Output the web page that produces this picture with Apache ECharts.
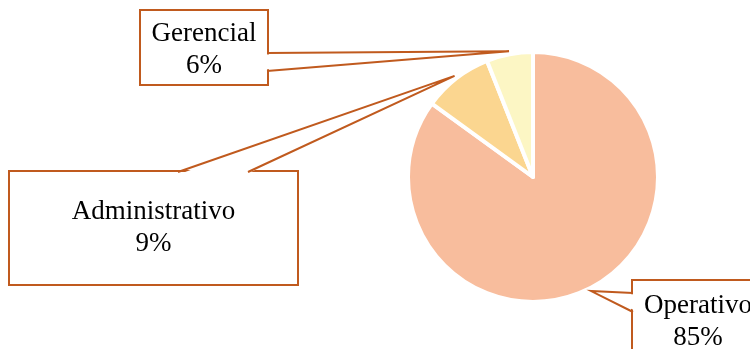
<!DOCTYPE html>
<html>
<head>
<meta charset="utf-8">
<script src="https://cdn.jsdelivr.net/npm/echarts@6/dist/echarts.min.js"></script>
<style>
html,body{margin:0;padding:0;background:#fff;}
#c{width:750px;height:349px;}
</style>
</head>
<body>
<div id="c"></div>
<script>
// ---- data ----
const categories = ['Operativo', 'Administrativo', 'Gerencial'];
const values = [85, 9, 6];
const sliceColors = ['#F8BD9D', '#FBD690', '#FCF6C4'];

// ---- layout / style (not data) ----
const CX = 533, CY = 177, R = 125;
const edge = '#C05A1E';
const FONT = 'Liberation Serif, Times New Roman, serif';
const LH = 32;
// callout boxes: center x, top y, width, height, top padding
const boxes = [
  { cx: 698, top: 281, w: 130, h: 90, pad: 9 },
  { cx: 153.5, top: 172, w: 287, h: 112, pad: 24 },
  { cx: 204, top: 11, w: 126, h: 73, pad: 7 }
];
// wedge base points on box edges
const wedgeBases = [
  [[633, 293], [633, 312], 'v'],
  [[178, 172], [248, 172], 'h'],
  [[267, 53], [267, 71], 'v']
];

const chart = echarts.init(document.getElementById('c'), null, { renderer: 'canvas' });

const total = values.reduce((a, b) => a + b, 0);
const data = categories.map((name, i) => {
  const b = boxes[i];
  return {
    name: name,
    value: values[i],
    itemStyle: { color: sliceColors[i] },
    label: {
      width: b.w,
      padding: [b.pad, 0, b.h - b.pad - 2 * LH, 0]
    }
  };
});

// tips: at mid-angle of each slice, just outside the pie
const tips = [];
let acc = 0;
values.forEach((v, i) => {
  const mid = (acc + v / 2) / total * 2 * Math.PI; // clockwise from 12 o'clock
  acc += v;
  const rr = R + 3;
  tips.push([CX + rr * Math.sin(mid), CY - rr * Math.cos(mid)]);
});

const graphics = [];
wedgeBases.forEach((wb, i) => {
  const [b1, b2, dir] = wb;
  const t = tips[i];
  let f1, f2;
  if (dir === 'v') {
    const s = (t[0] < b1[0]) ? 2 : -2;
    f1 = [b1[0] + s, b1[1] + 1.5];
    f2 = [b2[0] + s, b2[1] - 1.5];
  } else {
    const s = (t[1] < b1[1]) ? 2 : -2;
    f1 = [b1[0] + 1.5, b1[1] + s];
    f2 = [b2[0] - 1.5, b2[1] + s];
  }
  graphics.push({
    type: 'polygon', z: 100,
    shape: { points: [f1, t, f2] },
    style: { fill: '#fff', stroke: null }
  });
  graphics.push({
    type: 'polyline', z: 101,
    shape: { points: [b1, t, b2] },
    style: { stroke: edge, lineWidth: 2, fill: null, lineJoin: 'miter' }
  });
});

chart.setOption({
  animation: false,
  backgroundColor: '#fff',
  series: [{
    type: 'pie',
    center: [CX, CY],
    radius: R,
    startAngle: 90,
    clockwise: true,
    silent: true,
    itemStyle: { borderColor: '#fff', borderWidth: 4 },
    label: {
      show: true,
      position: 'outside',
      formatter: p => p.name + '\n' + p.value + '%',
      fontFamily: FONT,
      fontSize: 27,
      lineHeight: LH,
      color: '#000',
      align: 'center',
      backgroundColor: '#fff',
      borderColor: edge,
      borderWidth: 2
    },
    labelLine: { show: false },
    labelLayout: function (params) {
      const b = boxes[params.dataIndex];
      return { x: b.cx, y: b.top, align: 'center', verticalAlign: 'top' };
    },
    data: data
  }],
  graphic: graphics
});
</script>
</body>
</html>
